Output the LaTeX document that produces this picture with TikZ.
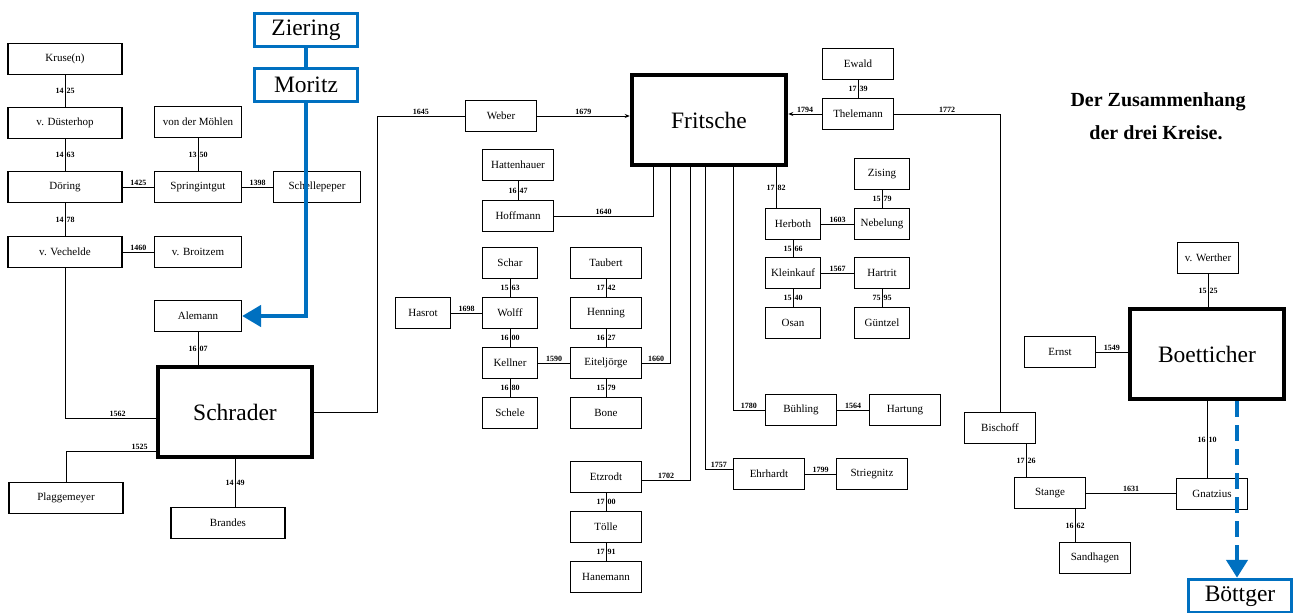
\documentclass[tikz,border=0pt]{standalone}
\usepackage{fontspec}
\setmainfont{Liberation Serif}
\newfontfamily\namefont{Liberation Serif}
\usetikzlibrary{arrows.meta}

\definecolor{zblue}{RGB}{0,112,192}
\newcommand\yrs[2]{#1\hspace{3pt}#2}

\begin{document}
\begin{tikzpicture}[x=1pt, y=-1pt, line cap=round,
    namebox/.style={draw, line width=1.2pt, minimum height=31pt, inner sep=1pt, font=\namefont\fontsize{11}{12}\selectfont},
    famwide/.style={namebox, minimum width=114pt},
    fammid/.style={namebox, minimum width=87pt},
    famstd/.style={namebox, minimum width=71pt},
    famslim/.style={namebox, minimum width=55pt},
    house/.style={draw, line width=4.5pt, minimum width=154pt, minimum height=90pt, font=\fontsize{23.5}{26}\selectfont},
    newname/.style={draw=zblue, line width=3.5pt, minimum width=103pt, minimum height=33pt, inner sep=1pt, font=\fontsize{23.5}{26}\selectfont},
    conn/.style={line width=1pt},
    year/.style={font=\bfseries\fontsize{8}{9}\selectfont, inner sep=1.2pt},
    bluelink/.style={zblue, line width=4.5pt, line cap=butt},
]
    \useasboundingbox (0,0) rectangle (1293,613);

    % Schrader
    \node[famwide] (kruse) at (65,59) {Kruse(n)};
    \node[famwide] (duesterhop) at (65,123) {v. Düsterhop};
    \node[famwide] (doering) at (65,187) {Döring};
    \node[famwide] (vechelde) at (65,252) {v. Vechelde};
    \node[fammid] (moehlen) at (198,122) {von der Möhlen};
    \node[fammid] (springintgut) at (198,187) {Springintgut};
    \node[fammid] (schellepeper) at (317,187) {Schellepeper};
    \node[fammid] (broitzem) at (198,252) {v. Broitzem};
    \node[fammid] (alemann) at (198,316) {Alemann};
    \node[house] (schrader) at (235,412) {Schrader};
    \node[famwide] (plaggemeyer) at (66,498) {Plaggemeyer};
    \node[famwide] (brandes) at (228,523) {Brandes};
    \node[newname] (ziering) at (306,30) {Ziering};
    \node[newname] (moritz) at (306,85) {Moritz};

    % Fritsche
    \node[famstd] (weber) at (501,116) {Weber};
    \node[house] (fritsche) at (709,120) {Fritsche};
    \node[famstd] (hattenhauer) at (518,165) {Hattenhauer};
    \node[famstd] (hoffmann) at (518,216) {Hoffmann};
    \node[famslim] (schar) at (510,263) {Schar};
    \node[famslim] (wolff) at (510,313) {Wolff};
    \node[famslim] (kellner) at (510,363) {Kellner};
    \node[famslim] (schele) at (510,413) {Schele};
    \node[famslim] (hasrot) at (423,313) {Hasrot};
    \node[famstd] (taubert) at (606,263) {Taubert};
    \node[famstd] (henning) at (606,313) {Henning};
    \node[famstd] (eiteljoerge) at (606,363) {Eiteljörge};
    \node[famstd] (bone) at (606,413) {Bone};
    \node[famstd] (etzrodt) at (606,477) {Etzrodt};
    \node[famstd] (toelle) at (606,527) {Tölle};
    \node[famstd] (hanemann) at (606,577) {Hanemann};
    \node[famstd] (ehrhardt) at (769,474) {Ehrhardt};
    \node[famstd] (striegnitz) at (872,474) {Striegnitz};
    \node[famstd] (buehling) at (801,410) {Bühling};
    \node[famstd] (hartung) at (905,410) {Hartung};
    \node[famstd] (ewald) at (858,64) {Ewald};
    \node[famstd] (thelemann) at (858,114) {Thelemann};
    \node[famslim] (zising) at (882,174) {Zising};
    \node[famslim] (nebelung) at (882,224) {Nebelung};
    \node[famslim] (herboth) at (793,224) {Herboth};
    \node[famslim] (kleinkauf) at (793,273) {Kleinkauf};
    \node[famslim] (hartrit) at (882,273) {Hartrit};
    \node[famslim] (osan) at (793,323) {Osan};
    \node[famslim] (guentzel) at (882,323) {Güntzel};

    % Boetticher
    \node[famslim, minimum width=61pt] (werther) at (1208,258) {v. Werther};
    \node[house] (boetticher) at (1207,354) {Boetticher};
    \node[famstd] (ernst) at (1060,352) {Ernst};
    \node[famstd] (gnatzius) at (1212,494) {Gnatzius};
    \node[famstd] (bischoff) at (1000,428) {Bischoff};
    \node[famstd] (stange) at (1050,493) {Stange};
    \node[famstd] (sandhagen) at (1095,558) {Sandhagen};
    \node[newname] (boettger) at (1240,596) {Böttger};

    \node[font=\bfseries\fontsize{20}{22}\selectfont] (title1) at (1158,102) {Der Zusammenhang};
    \node[font=\bfseries\fontsize{20}{22}\selectfont] (title2) at (1156,133) {der drei Kreise.};

    \coordinate (sw) at (377,116);

    % left tree
    \draw[conn] (kruse) -- node[year] {\yrs{14}{25}} (duesterhop);
    \draw[conn] (duesterhop) -- node[year] {\yrs{14}{63}} (doering);
    \draw[conn] (doering) -- node[year] {\yrs{14}{78}} (vechelde);
    \draw[conn] (doering) -- node[year, above] {1425} (springintgut);
    \draw[conn] (moehlen) -- node[year] {\yrs{13}{50}} (springintgut);
    \draw[conn] (springintgut) -- node[year, above] {1398} (schellepeper);
    \draw[conn] (vechelde) -- node[year, above] {1460} (broitzem);
    \draw[conn] (vechelde.south) |- node[year, above, pos=0.79] {1562} ([yshift=-6pt]schrader.west);
    \draw[conn] (plaggemeyer.north) |- node[year, above, pos=0.91] {1525} ([yshift=-39pt]schrader.west);
    \draw[conn] (alemann.south) -- node[year] {\yrs{16}{07}} (alemann.south |- schrader.north);
    \draw[conn] (schrader.south) -- node[year] {\yrs{14}{49}} (schrader.south |- brandes.north);
    \draw[conn] (schrader.east) -| (sw) -- node[year, above] {1645} (sw -| weber.west);
    \draw[bluelink] (ziering) -- (moritz);
    \draw[bluelink, -{Triangle[length=19pt, width=21pt]}] (moritz.south) |- (alemann.east);

    % middle tree
    \draw[conn, -{Stealth[length=5pt, width=4pt]}] (weber.east) -- node[year, above] {1679} (weber.east -| fritsche.west);
    \draw[conn] (hattenhauer) -- node[year] {\yrs{16}{47}} (hoffmann);
    \draw[conn] (hoffmann.east) -| node[year, above, pos=0.25] {1640} ([xshift=-56pt]fritsche.south);
    \draw[conn] ([xshift=-39pt]fritsche.south) |- node[year, above, pos=0.75] {1660} (eiteljoerge.east);
    \draw[conn] ([xshift=-19pt]fritsche.south) |- node[year, above, pos=0.75] {1702} ([yshift=-3pt]etzrodt.east);
    \draw[conn] ([xshift=-4pt]fritsche.south) |- node[year, above, pos=0.75] {1757} ([yshift=5pt]ehrhardt.west);
    \draw[conn] ([xshift=24pt]fritsche.south) |- node[year, above, pos=0.75] {1780} (buehling.west);
    \draw[conn] ([xshift=67pt]fritsche.south) -- node[year] {\yrs{17}{82}} ([xshift=67pt]fritsche.south |- herboth.north);
    \draw[conn] (schar) -- node[year] {\yrs{15}{63}} (wolff);
    \draw[conn] (wolff) -- node[year] {\yrs{16}{00}} (kellner);
    \draw[conn] (kellner) -- node[year] {\yrs{16}{80}} (schele);
    \draw[conn] (hasrot) -- node[year, above] {1698} (wolff);
    \draw[conn] (taubert) -- node[year] {\yrs{17}{42}} (henning);
    \draw[conn] (henning) -- node[year] {\yrs{16}{27}} (eiteljoerge);
    \draw[conn] (eiteljoerge) -- node[year] {\yrs{15}{79}} (bone);
    \draw[conn] (kellner) -- node[year, above] {1590} (eiteljoerge);
    \draw[conn] (etzrodt) -- node[year] {\yrs{17}{00}} (toelle);
    \draw[conn] (toelle) -- node[year] {\yrs{17}{91}} (hanemann);
    \draw[conn] (ehrhardt) -- node[year, above] {1799} (striegnitz);
    \draw[conn] (buehling) -- node[year, above] {1564} (hartung);
    \draw[conn] (ewald) -- node[year] {\yrs{17}{39}} (thelemann);
    \draw[conn, -{Stealth[length=5pt, width=4pt]}] (thelemann.west) -- node[year, above] {1794} (thelemann.west -| fritsche.east);
    \draw[conn] (zising) -- node[year] {\yrs{15}{79}} (nebelung);
    \draw[conn] (herboth) -- node[year, above] {1603} (nebelung);
    \draw[conn] (herboth) -- node[year] {\yrs{15}{66}} (kleinkauf);
    \draw[conn] (kleinkauf) -- node[year, above] {1567} (hartrit);
    \draw[conn] (kleinkauf) -- node[year] {\yrs{15}{40}} (osan);
    \draw[conn] (hartrit) -- node[year] {\yrs{75}{95}} (guentzel);

    % right tree
    \draw[conn] (thelemann.east) -| node[year, above, pos=0.25] {1772} (bischoff.north);
    \draw[conn] (werther) -- node[year] {\yrs{15}{25}} (werther |- boetticher.north);
    \draw[conn] (ernst) -- node[year, above] {1549} (ernst -| boetticher.west);
    \draw[conn] (boetticher.south) -- node[year] {\yrs{16}{10}} (boetticher.south |- gnatzius.north);
    \draw[conn] ([xshift=-24pt]stange.north) -- node[year] {\yrs{17}{26}} ([xshift=-24pt]stange.north |- bischoff.south);
    \draw[conn] (stange) -- node[year, above] {1631} (stange -| gnatzius.west);
    \draw[conn] ([xshift=25pt]stange.south) -- node[year] {\yrs{16}{62}} ([xshift=25pt]stange.south |- sandhagen.north);
    \draw[bluelink, dash pattern=on 16pt off 8pt, -{Triangle[length=18pt, width=21pt]}] ([xshift=30pt]boetticher.south) -- ([xshift=30pt]boetticher.south |- boettger.north);
\end{tikzpicture}
\end{document}
